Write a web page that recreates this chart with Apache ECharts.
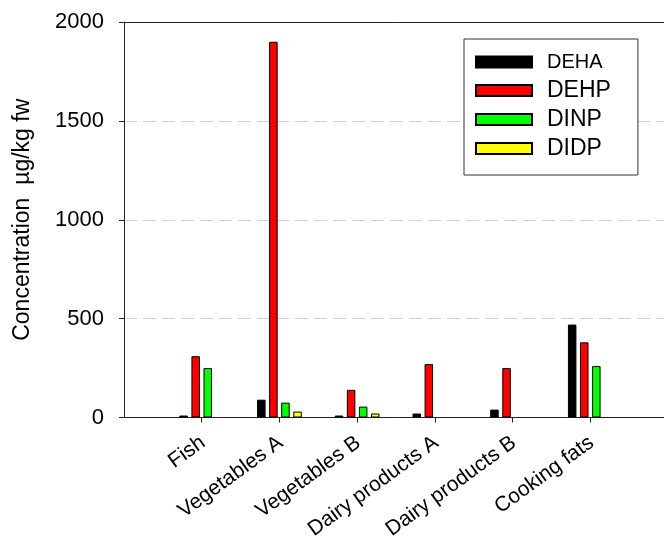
<!DOCTYPE html>
<html>
<head>
<meta charset="utf-8">
<script src="https://cdn.jsdelivr.net/npm/echarts@6/dist/echarts.min.js"></script>
<style>
  html, body { margin: 0; padding: 0; background: #fff; }
  #chart { width: 664px; height: 536px; }
</style>
</head>
<body>
<div id="chart"></div>
<script>
// padded with empty slots at both ends so the ticks fall where the original has them
const categories = ['', 'Fish', 'Vegetables A', 'Vegetables B', 'Dairy products A', 'Dairy products B', 'Cooking fats', '']
const yTicks = [0, 500, 1000, 1500, 2000]

const DEHA = [null, 10, 90, 10, 20, 40, 470, null]
const DEHP = [null, 310, 1900, 140, 270, 250, 380, null]
const DINP = [null, 250, 75, 55, null, null, 260, null]
const DIDP = [null, null, 30, 20, null, null, null, null]

const seriesDefs = [
  { name: 'DEHA', data: DEHA, color: '#000000' },
  { name: 'DEHP', data: DEHP, color: '#ff0000' },
  { name: 'DINP', data: DINP, color: '#00ff00' },
  { name: 'DIDP', data: DIDP, color: '#ffff00' }
]

const font = 'Liberation Sans, Arial, sans-serif'
const axisColor = '#222'

const myChart = echarts.init(document.getElementById('chart'))

const option = {
  animation: false,
  backgroundColor: '#fff',
  grid: { left: 124, top: 22, width: 544, height: 395.5, outerBoundsMode: 'none' },
  legend: {
    left: 464,
    top: 39,
    orient: 'vertical',
    icon: 'rect',
    itemWidth: 56,
    itemHeight: 11,
    itemGap: 6,
    padding: [12, 27, 15, 11],
    backgroundColor: '#fff',
    borderColor: '#333',
    borderWidth: 1,
    textStyle: { fontFamily: font, fontSize: 23, color: '#000', lineHeight: 22, padding: [0, 0, 0, 10] },
    data: [
      { name: 'DEHA', textStyle: { fontSize: 20 } },
      { name: 'DEHP' },
      { name: 'DINP' },
      { name: 'DIDP' }
    ]
  },
  xAxis: [
    {
      type: 'category',
      data: categories,
      boundaryGap: false,
      axisLine: { lineStyle: { color: axisColor, width: 1 } },
      axisTick: {
        length: 5,
        lineStyle: { color: axisColor },
        interval: (i) => i > 0 && i < categories.length - 1
      },
      axisLabel: {
        interval: 0,
        rotate: 36,
        margin: 11,
        verticalAlign: 'top',
        padding: [0, 6, 0, 0],
        fontFamily: font,
        fontSize: 21,
        color: '#000'
      },
      splitLine: { show: false }
    },
    {
      // top border line of the plot
      type: 'category',
      data: categories,
      position: 'top',
      boundaryGap: false,
      axisLine: { lineStyle: { color: axisColor, width: 1 } },
      axisTick: { show: false },
      axisLabel: { show: false }
    }
  ],
  yAxis: {
    type: 'value',
    min: 0,
    max: 2000,
    interval: 500,
    name: 'Concentration  µg/kg fw',
    nameLocation: 'middle',
    nameGap: 90,
    nameTextStyle: { fontFamily: font, fontSize: 23, color: '#000' },
    axisLine: { show: true, lineStyle: { color: axisColor, width: 1 } },
    axisTick: { show: true, length: 5, lineStyle: { color: axisColor } },
    axisLabel: {
      margin: 20,
      fontFamily: font,
      fontSize: 22,
      color: '#000',
      formatter: (v) => yTicks.includes(v) ? String(v) : ''
    },
    splitLine: {
      show: true,
      lineStyle: { color: '#d0d0d0', type: [13, 6], width: 1 }
    }
  },
  series: seriesDefs.map((s) => ({
    name: s.name,
    type: 'bar',
    data: s.data,
    barWidth: 8.5,
    barGap: '42%',
    itemStyle: { color: s.color, borderColor: '#000', borderWidth: 1 }
  }))
}

myChart.setOption(option)
</script>
</body>
</html>
